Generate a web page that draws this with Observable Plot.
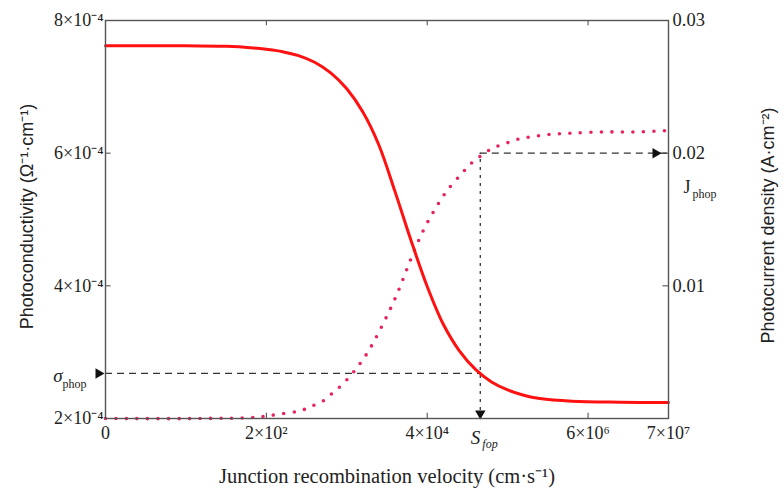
<!DOCTYPE html>
<html><head><meta charset="utf-8">
<script src="https://cdn.jsdelivr.net/npm/d3@7"></script>
<script src="https://cdn.jsdelivr.net/npm/@observablehq/plot@0.6"></script>
<style>body{margin:0;background:#fff}</style>
</head><body><div id="chart"></div>
<script>
// x axis: evenly spaced positions with labels
const xTicks = [0, 2, 4, 6, 7];
const xTickLabels = ["0", "2×10²", "4×10⁴", "6×10⁶", "7×10⁷"];
// left axis (photoconductivity)
const sigmaTicks = [2e-4, 4e-4, 6e-4, 8e-4];
const sigmaTickLabels = ["2×10⁻⁴", "4×10⁻⁴", "6×10⁻⁴", "8×10⁻⁴"];
// right axis (photocurrent density)
const jTicks = [0.01, 0.02, 0.03];
const jTickLabels = ["0.01", "0.02", "0.03"];

// photoconductivity curve (solid)
const sigmaX = [0, 0.5, 1.0, 1.5, 1.8, 2.0, 2.2, 2.4, 2.6, 2.8, 3.0, 3.2, 3.4, 3.6, 3.8, 4.0, 4.2, 4.4, 4.6, 4.8, 5.0, 5.2, 5.4, 5.8, 6.4, 7.0];
const sigmaV = [7.62e-4, 7.62e-4, 7.62e-4, 7.61e-4, 7.59e-4, 7.565e-4, 7.53e-4, 7.47e-4, 7.37e-4, 7.21e-4, 6.97e-4, 6.62e-4, 6.12e-4, 5.42e-4, 4.68e-4, 3.99e-4, 3.42e-4, 3.02e-4, 2.74e-4, 2.55e-4, 2.43e-4, 2.35e-4, 2.30e-4, 2.26e-4, 2.245e-4, 2.24e-4];
// photocurrent density curve (dotted)
const jX = [0, 1.18, 1.89, 2.15, 2.42, 2.56, 2.70, 2.82, 2.95, 3.07, 3.16, 3.23, 3.31, 3.44, 3.56, 3.66, 3.75, 3.85, 3.97, 4.10, 4.25, 4.45, 4.56, 4.69, 4.82, 4.96, 5.10, 5.25, 5.51, 5.78, 6.19, 6.59, 7.00];
const jV = [0, 0, 0.0001, 0.00032, 0.00058, 0.00092, 0.0013, 0.0019, 0.0026, 0.0034, 0.0041, 0.0047, 0.0055, 0.0070, 0.0085, 0.0099, 0.0113, 0.0128, 0.0144, 0.0158, 0.0172, 0.0186, 0.0193, 0.0199, 0.0204, 0.0207, 0.0210, 0.0212, 0.0214, 0.0215, 0.0216, 0.0216, 0.0217];

const sFop = 4.66;
const sigmaPhop = 2.68e-4;
const jPhop = 0.02;

const yMin = 2e-4, yMax = 8e-4, jMax = 0.03;
const jToY = j => yMin + j * (yMax - yMin) / jMax;

const sigmaData = sigmaX.map((x, i) => ({x, y: sigmaV[i]}));
const jData = jX.map((x, i) => ({x, y: jToY(jV[i])}));

const serif = "Liberation Serif, Times New Roman, serif";
const sans = "Liberation Sans, Arial, sans-serif";
const dashCol = "#333";

const chart = Plot.plot({
  width: 784, height: 497,
  marginLeft: 105, marginRight: 116, marginTop: 20, marginBottom: 79,
  x: {domain: [0, 7]},
  y: {domain: [yMin, yMax]},
  style: {background: "#fff", overflow: "visible"},
  marks: [
    Plot.axisX({ticks: xTicks, tickFormat: d => xTickLabels[xTicks.indexOf(d)], tickSize: 0, tickPadding: 8, fontSize: 18, fontFamily: serif, fill: "#222", label: null}),
    Plot.axisY({ticks: sigmaTicks, tickFormat: d => sigmaTickLabels[sigmaTicks.indexOf(d)], tickSize: 0, tickPadding: 2, fontSize: 18, fontFamily: serif, fill: "#222", label: null}),
    Plot.axisY({anchor: "right", ticks: jTicks.map(jToY), tickFormat: (d, i) => jTickLabels[i], tickSize: 0, tickPadding: 4, fontSize: 18.5, fontFamily: serif, fill: "#222", label: null}),
    // inward ticks
    Plot.ruleY([4e-4, 6e-4], {x1: 0, x2: 0.07, stroke: "#444"}),
    Plot.ruleY(jTicks.slice(0, 2).map(jToY), {x1: 6.93, x2: 7, stroke: "#444"}),
    Plot.ruleX([2, 4, 6], {y1: yMin, y2: yMin + 0.08e-4, stroke: "#444"}),
    Plot.ruleX([2, 4, 6], {y1: yMax, y2: yMax - 0.08e-4, stroke: "#444"}),
    // dashed guide lines
    Plot.ruleY([sigmaPhop], {x1: 0, x2: sFop, stroke: dashCol, strokeWidth: 1.3, strokeDasharray: "7,5"}),
    Plot.ruleX([sFop], {y1: yMin, y2: jToY(jPhop), stroke: dashCol, strokeWidth: 1.3, strokeDasharray: "3,5"}),
    Plot.ruleY([jToY(jPhop)], {x1: sFop, x2: 7, stroke: dashCol, strokeWidth: 1.3, strokeDasharray: "7,5"}),
    // curves
    Plot.line(jData, {x: "x", y: "y", curve: "catmull-rom", stroke: "#e8245c", strokeWidth: 3.6, strokeDasharray: "0,10.5", strokeLinecap: "round"}),
    Plot.line(sigmaData, {x: "x", y: "y", curve: "catmull-rom", stroke: "#ff1111", strokeWidth: 3}),
    // arrowheads
    Plot.dot([0], {x: d => d, y: () => sigmaPhop, symbol: "triangle2", r: 5, fill: "#111", stroke: "none", rotate: 90, dx: -7}),
    Plot.dot([sFop], {x: d => d, y: () => yMin, symbol: "triangle2", r: 5, fill: "#111", stroke: "none", rotate: 180, dy: -5}),
    Plot.dot([7], {x: d => d, y: () => jToY(jPhop), symbol: "triangle2", r: 5, fill: "#111", stroke: "none", rotate: 90, dx: -13}),
    Plot.frame({stroke: "#555", strokeWidth: 1.4}),
    // annotation labels
    Plot.text(["σ"], {x: 0, y: sigmaPhop, dx: -43, dy: 3, textAnchor: "end", fontStyle: "italic", fontSize: 19, fontFamily: serif, fill: "#222"}),
    Plot.text(["phop"], {x: 0, y: sigmaPhop, dx: -43, dy: 11, textAnchor: "start", fontSize: 12, fontFamily: serif, fill: "#222"}),
    Plot.text(["J"], {x: 7, y: jToY(jPhop), dx: 15, dy: 34, textAnchor: "start", fontSize: 18, fontFamily: serif, fill: "#222"}),
    Plot.text(["phop"], {x: 7, y: jToY(jPhop), dx: 24, dy: 41, textAnchor: "start", fontSize: 12, fontFamily: serif, fill: "#222"}),
    Plot.text(["S"], {x: sFop, y: yMin, dy: 19, textAnchor: "end", fontStyle: "italic", fontSize: 19, fontFamily: serif, fill: "#222"}),
    Plot.text(["fop"], {x: sFop, y: yMin, dx: 2, dy: 26, textAnchor: "start", fontStyle: "italic", fontSize: 12, fontFamily: serif, fill: "#222"}),
    // axis titles
    Plot.text(["Junction recombination velocity (cm·s⁻¹)"], {frameAnchor: "bottom", textAnchor: "middle", dy: 64, fontSize: 20.5, fontFamily: serif, fill: "#222"}),
    Plot.text(["Photoconductivity (Ω⁻¹·cm⁻¹)"], {frameAnchor: "left", textAnchor: "middle", dx: -78, dy: -3, rotate: -90, fontSize: 18, fontFamily: sans, fill: "#222"}),
    Plot.text(["Photocurrent density (A·cm⁻²)"], {frameAnchor: "right", textAnchor: "middle", dx: 100, dy: 6, rotate: -90, fontSize: 18, fontFamily: sans, fill: "#222"})
  ]
});
document.getElementById("chart").append(chart);
</script>
</body></html>
